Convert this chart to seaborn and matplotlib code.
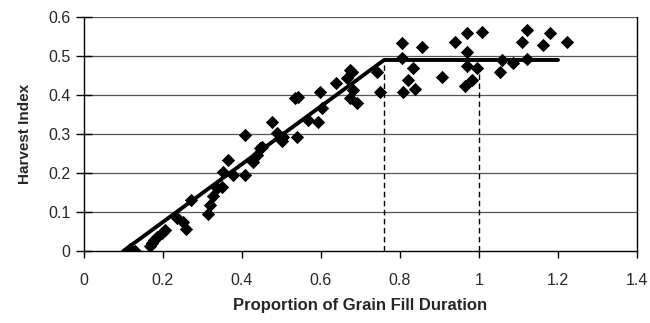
import seaborn as sns
import matplotlib.pyplot as plt
import pandas as pd

sns.set_theme(style="white")
plt.rcParams["font.family"] = ["Liberation Sans", "DejaVu Sans"]

# observed points (proportion of grain fill duration, harvest index)
grain_fill = [0.116, 0.129, 0.167, 0.177, 0.185, 0.197, 0.205, 0.172, 0.235, 0.251,
              0.258, 0.271, 0.314, 0.319, 0.327, 0.337, 0.349, 0.352, 0.365, 0.377,
              0.408, 0.408, 0.428, 0.438, 0.451, 0.476, 0.489, 0.504, 0.534, 0.542,
              0.539, 0.567, 0.592, 0.603, 0.597, 0.638, 0.666, 0.673, 0.678, 0.681,
              0.673, 0.691, 0.742, 0.749, 0.805, 0.856, 0.805, 0.833, 0.820, 0.808,
              0.838, 0.906, 0.939, 0.970, 1.008, 0.970, 0.970, 0.995, 0.965, 0.982,
              1.058, 1.053, 1.086, 1.122, 1.109, 1.122, 1.180, 1.162, 1.223, 0.501,
              0.446]
harvest_index = [0.005, 0.000, 0.013, 0.028, 0.036, 0.046, 0.054, 0.021, 0.085, 0.074,
                 0.056, 0.131, 0.095, 0.118, 0.141, 0.162, 0.164, 0.203, 0.233, 0.195,
                 0.195, 0.297, 0.228, 0.246, 0.267, 0.331, 0.303, 0.292, 0.392, 0.395,
                 0.292, 0.336, 0.331, 0.367, 0.408, 0.431, 0.444, 0.464, 0.459, 0.413,
                 0.392, 0.379, 0.459, 0.408, 0.533, 0.523, 0.495, 0.469, 0.438, 0.408,
                 0.415, 0.446, 0.536, 0.559, 0.562, 0.510, 0.474, 0.469, 0.423, 0.438,
                 0.490, 0.459, 0.482, 0.567, 0.536, 0.492, 0.559, 0.528, 0.536, 0.282,
                 0.264]

# fitted segmented line
fit_x = [0.10, 0.76, 1.20]
fit_y = [0.0, 0.49, 0.49]

# dashed markers
dash_x = [0.76, 1.0]
dash_top = 0.49

df = pd.DataFrame({"x": grain_fill, "y": harvest_index})
fit = pd.DataFrame({"x": fit_x, "y": fit_y})

fig = plt.figure(figsize=(6.5, 3.23), dpi=100)
ax = fig.add_axes([0.129, 0.223, 0.851, 0.724])

for v in [0.1, 0.2, 0.3, 0.4, 0.5, 0.6]:
    ax.axhline(v, color="#555555", lw=0.9, zorder=0)

for dx in dash_x:
    ax.plot([dx, dx], [0, dash_top], color="black", lw=1.0, ls=(0, (4, 2.5)), zorder=1)

sns.scatterplot(data=df, x="x", y="y", marker="D", s=46, color="black",
                edgecolor="black", linewidth=0, ax=ax, zorder=3)
sns.lineplot(data=fit, x="x", y="y", color="black", lw=2.8, ax=ax,
             estimator=None, sort=False, zorder=2)

ax.set_xlim(0, 1.4)
ax.set_ylim(0, 0.6)
ax.set_xticks([0, 0.2, 0.4, 0.6, 0.8, 1.0, 1.2, 1.4])
ax.set_xticklabels(["0", "0.2", "0.4", "0.6", "0.8", "1", "1.2", "1.4"])
ax.set_yticks([0, 0.1, 0.2, 0.3, 0.4, 0.5, 0.6])
ax.set_yticklabels(["0", "0.1", "0.2", "0.3", "0.4", "0.5", "0.6"])
ax.tick_params(axis="x", direction="out", length=5, width=1, color="black",
               labelsize=11.5, pad=11)
ax.tick_params(axis="y", direction="inout", length=11, width=1, color="black",
               labelsize=11.5, pad=4)
ax.tick_params(bottom=True, left=True)

for side in ["left", "bottom", "right", "top"]:
    ax.spines[side].set_color("black")
    ax.spines[side].set_linewidth(1.0)
ax.spines["top"].set_visible(False)

ax.set_xlabel("Proportion of Grain Fill Duration", fontsize=12, fontweight="bold", labelpad=7)
ax.set_ylabel("Harvest Index", fontsize=11, fontweight="bold", labelpad=12)

fig.savefig("out.png", dpi=100)
plt.close(fig)
